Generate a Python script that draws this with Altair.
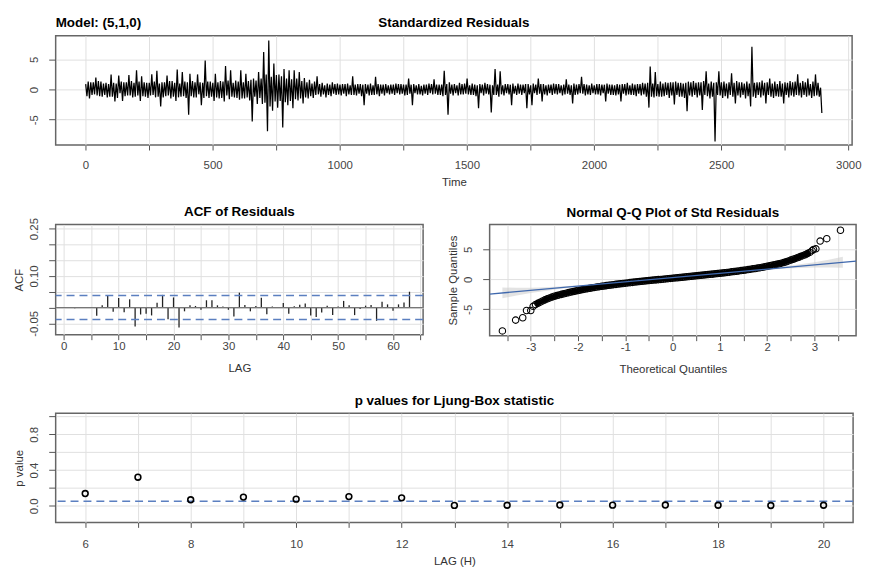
import altair as alt
import pandas as pd

FONT = "Liberation Sans"

# ---------------- data ----------------
MODEL = "Model: (5,1,0)"
TOP_TITLE = "Standardized Residuals"

# standardized residuals: upper swings read at t = 1, 11, 21, ...
RESID_HI = [
    0.9, 1.3, 1.2, 1.2, 2.0, 1.4, 1.3, 1.0, 1.1, 0.9,
    2.5, 1.1, 1.0, 2.3, 1.3, 1.2, 1.2, 2.4, 1.4, 1.1,
    3.2, 1.3, 2.2, 1.2, 1.1, 1.1, 2.5, 1.3, 3.1, 1.0,
    1.2, 1.2, 2.3, 1.4, 1.4, 1.1, 3.3, 1.0, 2.9, 1.3,
    1.2, 2.6, 1.4, 1.2, 2.5, 1.2, 1.1, 4.8, 1.3, 1.3,
    1.1, 2.6, 1.2, 1.4, 1.3, 3.9, 1.5, 3.2, 1.1, 1.5,
    1.3, 3.2, 1.2, 2.6, 1.4, 1.6, 1.8, 1.5, 2.9, 1.8,
    6.2, 2.5, 8.1, 2.1, 4.3, 2.4, 2.5, 2.2, 3.4, 1.8,
    3.2, 1.7, 3.2, 1.8, 2.9, 1.4, 1.9, 1.2, 1.6, 1.0,
    1.3, 2.2, 0.9, 1.1, 0.7, 1.0, 0.8, 1.2, 0.9, 1.0,
    0.8, 0.9, 0.9, 1.0, 0.7, 2.2, 0.8, 0.9, 0.9, 0.8,
    0.9, 0.8, 1.0, 0.7, 2.1, 0.9, 0.8, 0.8, 0.9, 0.7,
    0.8, 0.8, 1.0, 0.9, 0.9, 0.8, 0.8, 1.8, 0.8, 0.9,
    0.7, 0.9, 0.6, 0.8, 0.8, 1.0, 0.9, 1.7, 0.8, 0.8,
    0.8, 3.1, 0.9, 1.2, 0.8, 0.9, 0.7, 1.1, 0.9, 1.0,
    1.8, 0.7, 1.0, 0.8, 0.7, 0.9, 0.8, 1.1, 0.9, 0.8,
    0.7, 3.4, 0.8, 3.0, 0.7, 0.9, 0.9, 0.8, 1.0, 0.6,
    1.0, 0.8, 0.8, 0.9, 0.9, 0.7, 1.0, 0.8, 1.8, 0.9,
    0.9, 0.7, 0.8, 0.8, 1.0, 0.9, 0.9, 0.7, 0.8, 1.7,
    0.8, 0.7, 1.0, 0.8, 0.9, 2.1, 0.9, 0.8, 0.7, 1.0,
    0.7, 0.9, 0.9, 0.8, 0.8, 1.0, 0.8, 0.8, 0.7, 0.9,
    0.8, 0.9, 0.9, 1.1, 0.7, 1.0, 0.8, 0.9, 0.9, 1.1,
    1.0, 1.1, 3.8, 1.0, 2.9, 0.9, 1.3, 1.0, 1.2, 1.1,
    1.2, 1.2, 1.3, 1.1, 1.1, 1.0, 1.1, 1.3, 1.2, 1.4,
    1.1, 1.2, 1.2, 1.4, 3.0, 1.0, 1.3, 1.1, 1.2, 3.0,
    1.2, 1.3, 1.0, 1.2, 2.7, 1.1, 1.4, 1.2, 1.2, 1.0,
    1.3, 1.0, 7.1, 1.1, 1.2, 1.2, 1.5, 1.1, 1.2, 1.8,
    1.0, 1.3, 0.9, 1.4, 1.0, 1.2, 1.1, 1.4, 1.2, 1.3,
    2.5, 1.1, 1.4, 1.2, 1.8, 0.9, 1.3, 2.5, 1.1, 0.3,
]
# standardized residuals: lower swings read at t = 6, 16, 26, ...
RESID_LO = [
    -1.1, -1.5, -0.9, -0.8, -1.0, -1.1, -1.2, -0.9, -1.3, -1.2,
    -1.2, -2.0, -1.4, -0.6, -1.9, -1.1, -1.0, -1.0, -1.3, -1.2,
    -1.0, -1.9, -1.1, -1.2, -1.4, -1.0, -0.9, -1.3, -1.2, -2.8,
    -1.3, -1.1, -1.0, -1.5, -1.2, -1.9, -1.3, -1.2, -1.1, -1.4,
    -4.2, -1.1, -1.3, -1.3, -0.8, -2.6, -1.4, -1.1, -1.4, -1.2,
    -1.9, -1.3, -1.5, -1.4, -2.0, -1.0, -1.6, -1.2, -1.3, -1.4,
    -1.7, -1.5, -1.5, -1.3, -1.8, -5.3, -1.2, -2.4, -1.4, -2.4,
    -2.2, -6.9, -2.8, -3.5, -2.0, -3.0, -1.9, -6.3, -2.1, -2.6,
    -1.9, -3.1, -1.6, -1.8, -1.5, -2.3, -1.3, -1.5, -1.1, -1.4,
    -0.9, -0.8, -1.2, -0.8, -1.3, -0.9, -1.1, -0.7, -0.9, -0.8,
    -1.0, -0.7, -1.1, -0.8, -0.9, -0.9, -1.0, -0.7, -1.1, -2.6,
    -0.7, -1.0, -0.9, -0.9, -0.8, -1.1, -0.7, -1.0, -0.6, -0.8,
    -0.7, -0.9, -0.6, -0.8, -0.7, -1.0, -0.9, -0.7, -2.6, -0.6,
    -0.8, -0.8, -1.0, -0.7, -0.9, -0.6, -0.8, -0.7, -0.9, -0.9,
    -1.1, -0.9, -4.2, -0.7, -1.0, -0.6, -1.0, -0.8, -0.8, -0.7,
    -0.8, -0.9, -0.9, -1.1, -3.1, -0.6, -1.0, -0.7, -0.8, -3.8,
    -0.9, -0.9, -1.2, -0.8, -1.0, -0.6, -0.8, -2.6, -0.7, -0.9,
    -0.7, -0.9, -0.6, -3.1, -0.8, -2.6, -0.6, -0.9, -0.7, -2.0,
    -0.8, -1.0, -0.6, -0.9, -0.7, -0.8, -0.6, -1.0, -0.8, -0.7,
    -0.9, -2.3, -0.9, -0.8, -0.6, -0.7, -1.0, -0.8, -0.9, -0.6,
    -0.8, -0.8, -1.0, -0.6, -2.0, -0.7, -0.9, -0.9, -1.0, -0.8,
    -2.0, -0.7, -1.0, -0.8, -0.9, -0.9, -1.1, -0.7, -1.0, -0.8,
    -1.2, -3.0, -1.2, -1.3, -1.1, -1.2, -1.2, -1.1, -0.9, -1.4,
    -1.0, -2.5, -0.9, -1.2, -1.2, -1.4, -3.6, -1.0, -1.2, -0.9,
    -1.3, -1.0, -3.4, -0.9, -1.1, -1.5, -1.2, -8.6, -0.9, -1.0,
    -1.4, -1.1, -1.5, -0.9, -1.2, -2.3, -1.0, -1.3, -0.9, -1.5,
    -1.1, -2.8, -1.2, -1.4, -0.9, -1.3, -1.0, -2.3, -0.9, -1.2,
    -1.4, -1.1, -1.2, -1.2, -2.3, -0.9, -1.3, -1.0, -1.2, -0.9,
    -1.0, -1.3, -0.9, -1.2, -1.0, -1.4, -1.1, -1.0, -1.2, -3.9,
]
TIME_HI = list(range(1, 1 + 10 * len(RESID_HI), 10))
TIME_LO = list(range(6, 6 + 10 * len(RESID_LO), 10))

# ACF of residuals, lags 1..63
ACF_VALS = [
    0.002, -0.002, 0.001, -0.001, 0.002, -0.026, 0.007, 0.038, -0.013, 0.030,
    -0.015, 0.026, -0.060, -0.022, -0.020, -0.025, 0.015, 0.040, -0.037, 0.032,
    -0.063, -0.012, 0.007, 0.005, -0.007, 0.023, 0.023, 0.007, 0.003, -0.007,
    -0.028, 0.047, 0.008, -0.012, 0.005, 0.031, -0.021, 0.003, 0.002, 0.014,
    -0.020, 0.004, 0.009, 0.013, -0.025, -0.030, -0.016, 0.006, -0.024, 0.003,
    0.021, 0.007, -0.024, -0.005, 0.006, 0.008, -0.042, 0.018, 0.010, -0.010,
    0.010, 0.016, 0.050,
]
LAGS = list(range(1, len(ACF_VALS) + 1))
ACF_BOUND = [0.038, -0.038]

# Normal Q-Q: theoretical quantiles and sample quantiles
QQ_X = [
    -3.60, -3.32, -3.17, -3.09, -3.00, -2.95,
    -2.90, -2.85, -2.80, -2.75, -2.70, -2.65, -2.60, -2.55, -2.50, -2.45,
    -2.40, -2.35, -2.30, -2.25, -2.20, -2.15, -2.10, -2.05, -2.00, -1.95,
    -1.90, -1.85, -1.80, -1.75, -1.70, -1.65, -1.60, -1.55, -1.50, -1.45,
    -1.40, -1.35, -1.30, -1.25, -1.20, -1.15, -1.10, -1.05, -1.00, -0.95,
    -0.90, -0.85, -0.80, -0.75, -0.70, -0.65, -0.60, -0.55, -0.50, -0.45,
    -0.40, -0.35, -0.30, -0.25, -0.20, -0.15, -0.10, -0.05, 0.00, 0.05,
    0.10, 0.15, 0.20, 0.25, 0.30, 0.35, 0.40, 0.45, 0.50, 0.55,
    0.60, 0.65, 0.70, 0.75, 0.80, 0.85, 0.90, 0.95, 1.00, 1.05,
    1.10, 1.15, 1.20, 1.25, 1.30, 1.35, 1.40, 1.45, 1.50, 1.55,
    1.60, 1.65, 1.70, 1.75, 1.80, 1.85, 1.90, 1.95, 2.00, 2.05,
    2.10, 2.15, 2.20, 2.25, 2.30, 2.35, 2.40, 2.45, 2.50, 2.55,
    2.60, 2.65, 2.70, 2.75, 2.80, 2.85, 2.90,
    2.95, 2.98, 3.03, 3.12, 3.26, 3.55,
]
QQ_Y = [
    -8.6, -6.8, -6.4, -5.2, -5.2, -4.5,
    -4.20, -4.00, -3.80, -3.60, -3.42, -3.25, -3.10, -2.95, -2.82, -2.70,
    -2.60, -2.50, -2.40, -2.30, -2.21, -2.12, -2.03, -1.94, -1.86, -1.78,
    -1.70, -1.62, -1.55, -1.48, -1.41, -1.34, -1.28, -1.22, -1.16, -1.10,
    -1.04, -0.99, -0.94, -0.88, -0.83, -0.78, -0.73, -0.68, -0.63, -0.59,
    -0.54, -0.50, -0.45, -0.41, -0.37, -0.32, -0.28, -0.24, -0.20, -0.16,
    -0.12, -0.08, -0.04, 0.00, 0.04, 0.08, 0.12, 0.16, 0.20, 0.24,
    0.28, 0.32, 0.36, 0.40, 0.44, 0.48, 0.52, 0.56, 0.60, 0.64,
    0.68, 0.72, 0.76, 0.80, 0.84, 0.88, 0.93, 0.97, 1.02, 1.06,
    1.11, 1.16, 1.21, 1.26, 1.31, 1.36, 1.41, 1.47, 1.52, 1.58,
    1.64, 1.70, 1.76, 1.82, 1.89, 1.96, 2.03, 2.10, 2.18, 2.26,
    2.34, 2.43, 2.52, 2.61, 2.71, 2.81, 2.95, 3.08, 3.22, 3.36,
    3.50, 3.65, 3.80, 3.96, 4.12, 4.30, 4.50,
    4.8, 5.0, 5.1, 6.4, 6.8, 8.2,
]
QQ_LINE_X = [-3.87, 3.88]
QQ_LINE_Y = [-2.45, 3.05]
QQ_BAND_X = [-3.6, -3.3, -3.0, -2.7, -2.4, -2.0, -1.0, 0.0, 1.0, 2.0, 2.4, 2.7, 3.0, 3.3, 3.6]
QQ_BAND_LO = [-3.16, -2.69, -2.28, -1.92, -1.60, -1.24, -0.47, 0.25, 0.95, 1.60, 1.80, 1.92, 1.98, 1.99, 1.96]
QQ_BAND_HI = [-1.36, -1.39, -1.38, -1.32, -1.20, -1.00, -0.35, 0.35, 1.07, 1.84, 2.20, 2.52, 2.88, 3.29, 3.76]

# Ljung-Box p values
LB_LAG = [6, 7, 8, 9, 10, 11, 12, 13, 14, 15, 16, 17, 18, 19, 20]
LB_P = [0.137, 0.320, 0.067, 0.097, 0.074, 0.103, 0.089, 0.004, 0.006, 0.008, 0.007, 0.008, 0.006, 0.003, 0.006]
LB_LEVEL = [0.05]

# tick values
TOP_X_TICKS = list(range(0, 3001, 250))
TOP_Y_TICKS = [-5, 0, 5]
ACF_X_TICKS = list(range(0, 66, 5))
ACF_Y_TICKS = [-0.05, 0.0, 0.05, 0.10, 0.15, 0.20, 0.25]
QQ_X_TICKS = [-3.5, -3, -2.5, -2, -1.5, -1, -0.5, 0, 0.5, 1, 1.5, 2, 2.5, 3, 3.5]
QQ_Y_TICKS = [-5, 0, 5]
LB_X_TICKS = list(range(6, 21))
LB_Y_TICKS = [0.0, 0.2, 0.4, 0.6, 0.8, 1.0]

# ---------------- styling helpers ----------------
GRID = "#e0e0e0"
DASH_BLUE = "#5b7fc0"
LINE_BLUE = "#3f68ad"
MINUS = "replace(datum.label, '\u2212', '-')"
INT_LABEL = "datum.value % 1 == 0 ? (datum.value < 0 ? '-' + abs(datum.value) : '' + datum.value) : ''"


def xaxis(values, label_expr, title, label_pad, title_pad, fmt=None):
    kw = dict(values=values, labelExpr=label_expr, title=title, grid=True,
              gridColor=GRID, tickSize=5, labelPadding=label_pad,
              titlePadding=title_pad, labelFlush=False, labelOverlap=False)
    if fmt:
        kw["format"] = fmt
    return alt.Axis(**kw)


def yaxis(values, label_expr, title):
    kw = dict(values=values, labelExpr=label_expr, grid=True,
              gridColor=GRID, tickSize=7, labelPadding=9, labelAngle=270,
              labelAlign="center", labelBaseline="bottom", titlePadding=4,
              minExtent=27, maxExtent=27, labelFlush=False, labelOverlap=False)
    kw["title"] = title if title else " "
    return alt.Axis(**kw)


# ---------------- top: standardized residuals ----------------
top_df = pd.DataFrame({"Time": TIME_HI + TIME_LO, "resid": RESID_HI + RESID_LO}).sort_values("Time")
top_line = alt.Chart(top_df).mark_line(color="black", strokeWidth=1.25, clip=True).encode(
    x=alt.X("Time:Q", scale=alt.Scale(domain=[-117, 3015], nice=False, zero=False),
            axis=xaxis(TOP_X_TICKS, "datum.value % 500 == 0 ? datum.label : ''", "Time", 10, 5, "d")),
    y=alt.Y("resid:Q", scale=alt.Scale(domain=[-9.2, 8.9], nice=False, zero=False),
            axis=yaxis(TOP_Y_TICKS, MINUS, None)),
)
txt_style = dict(baseline="bottom", font=FONT, fontSize=13.5, fontWeight="bold", color="black")
model_txt = alt.Chart(pd.DataFrame({"m": [MODEL]})).mark_text(align="left", **txt_style).encode(
    x=alt.value(0), y=alt.value(-6), text="m:N")
title_txt = alt.Chart(pd.DataFrame({"m": [TOP_TITLE]})).mark_text(align="center", **txt_style).encode(
    x=alt.value(401), y=alt.value(-6), text="m:N")
top = alt.layer(top_line, model_txt, title_txt).properties(width=802, height=110)

# ---------------- ACF ----------------
acf_df = pd.DataFrame({"LAG": LAGS, "ACF": ACF_VALS})
acf_xs = alt.Scale(domain=[-1.48, 65.48], nice=False, zero=False)
acf_ys = alt.Scale(domain=[-0.086, 0.263], nice=False, zero=False)
acf_xa = xaxis(ACF_X_TICKS, "datum.value % 10 == 0 ? datum.label : ''", "LAG", 1, 11, "d")
acf_ya = yaxis(ACF_Y_TICKS,
               "datum.value < -0.04 ? '-0.05' : (abs(datum.value - 0.1) < 0.001 ? '0.10' : (abs(datum.value - 0.25) < 0.001 ? '0.25' : ''))",
               "ACF")
acf_bars = alt.Chart(acf_df).mark_rule(color="#222222", strokeWidth=1.3).encode(
    x=alt.X("LAG:Q", scale=acf_xs, axis=acf_xa),
    y=alt.Y("ACF:Q", scale=acf_ys, axis=acf_ya), y2=alt.datum(0))
acf_zero = alt.Chart(pd.DataFrame({"ACF": [0.0]})).mark_rule(color="#777777", strokeWidth=1.2).encode(
    y=alt.Y("ACF:Q", scale=acf_ys, axis=acf_ya))
acf_bounds = alt.Chart(pd.DataFrame({"ACF": ACF_BOUND})).mark_rule(
    color=DASH_BLUE, strokeWidth=1.4, strokeDash=[8, 5]).encode(
    y=alt.Y("ACF:Q", scale=acf_ys, axis=acf_ya))
acf = alt.layer(acf_bars, acf_zero, acf_bounds).properties(
    width=370, height=111, title=alt.TitleParams("ACF of Residuals", offset=-1.5))

# ---------------- Q-Q ----------------
qq_df = pd.DataFrame({"tq": QQ_X, "sq": QQ_Y})
core_df = qq_df.iloc[6:-6]
band_df = pd.DataFrame({"tq": QQ_BAND_X, "sq": QQ_BAND_LO, "hi": QQ_BAND_HI})
line_df = pd.DataFrame({"tq": QQ_LINE_X, "sq": QQ_LINE_Y})
qq_xs = alt.Scale(domain=[-3.87, 3.88], nice=False, zero=False)
qq_ys = alt.Scale(domain=[-9.4, 9.17], nice=False, zero=False)
qq_xa = xaxis(QQ_X_TICKS, INT_LABEL, "Theoretical Quantiles", 1, 11)
qq_ya = yaxis(QQ_Y_TICKS, MINUS, "Sample Quantiles")
qx = alt.X("tq:Q", scale=qq_xs, axis=qq_xa)
qy = alt.Y("sq:Q", scale=qq_ys, axis=qq_ya)
qq_band = alt.Chart(band_df).mark_area(color="#cccccc", opacity=0.55, clip=True).encode(
    x=qx, y=qy, y2="hi:Q")
qq_core = alt.Chart(core_df).mark_line(color="black", strokeWidth=5, clip=True).encode(x=qx, y=qy)
qq_pts = alt.Chart(qq_df).mark_point(shape="circle", filled=False, color="black", size=42,
                                     strokeWidth=1.1, opacity=1, clip=True).encode(x=qx, y=qy)
qq_line = alt.Chart(line_df).mark_line(color=LINE_BLUE, strokeWidth=1.3, clip=True).encode(x=qx, y=qy)
qq = alt.layer(qq_band, qq_core, qq_pts, qq_line).properties(
    width=369, height=112, title=alt.TitleParams("Normal Q-Q Plot of Std Residuals", offset=5.5))

# ---------------- Ljung-Box ----------------
lb_df = pd.DataFrame({"lag": LB_LAG, "p": LB_P})
lb_ys = alt.Scale(domain=[-0.186, 1.037], nice=False, zero=False)
lb_ya = yaxis(LB_Y_TICKS,
              "(abs(datum.value) < 0.001 || abs(datum.value - 0.4) < 0.001 || abs(datum.value - 0.8) < 0.001) ? format(datum.value, '.1f') : ''",
              "p value")
lb_level = alt.Chart(pd.DataFrame({"p": LB_LEVEL})).mark_rule(
    color=DASH_BLUE, strokeWidth=1.4, strokeDash=[8, 5]).encode(y=alt.Y("p:Q", scale=lb_ys, axis=lb_ya))
lb_pts = alt.Chart(lb_df).mark_point(shape="circle", filled=False, color="black", size=34,
                                     strokeWidth=1.6, opacity=1).encode(
    x=alt.X("lag:Q", scale=alt.Scale(domain=[5.44, 20.56], nice=False, zero=False),
            axis=xaxis(LB_X_TICKS, "datum.value % 2 == 0 ? datum.label : ''", "LAG (H)", 11, 6, "d")),
    y=alt.Y("p:Q", scale=lb_ys, axis=lb_ya),
)
lb = alt.layer(lb_level, lb_pts).properties(
    width=803, height=110, title=alt.TitleParams("p values for Ljung-Box statistic", offset=6))

middle = alt.hconcat(acf, qq, spacing=22)
chart = alt.vconcat(top, middle, lb, spacing=16, background="white").configure_view(
    stroke="#666666", strokeWidth=1.5
).configure_axis(
    labelFont=FONT, labelFontSize=11.5, labelColor="#444444",
    titleFont=FONT, titleFontSize=11.5, titleColor="#333333", titleFontWeight="normal",
    tickColor="#555555", domain=False,
).configure_title(
    font=FONT, fontSize=13.5, fontWeight="bold", color="black", anchor="middle"
)

chart.save("out.html", embed_options={"renderer": "svg", "actions": False})
